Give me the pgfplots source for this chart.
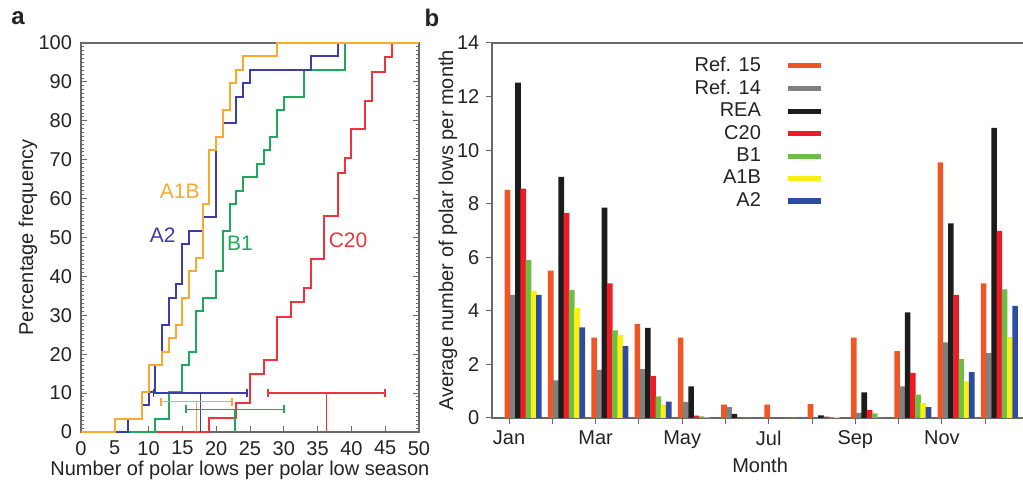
\documentclass[border=0pt]{standalone}
\usepackage{pgfplots}
\pgfplotsset{compat=1.18}
\usepackage{pgfplotstable}
\usepackage{fontspec}
\setmainfont{Liberation Sans}
\definecolor{cA1B}{RGB}{247,170,45}
\definecolor{cA2}{RGB}{60,60,170}
\definecolor{cB1}{RGB}{30,170,90}
\definecolor{cC20}{RGB}{240,50,60}
\definecolor{bRefA}{RGB}{240,85,35}
\definecolor{bRefB}{RGB}{128,128,128}
\definecolor{bREA}{RGB}{28,28,28}
\definecolor{bC20}{RGB}{237,28,36}
\definecolor{bB1}{RGB}{110,190,70}
\definecolor{bA1B}{RGB}{250,238,20}
\definecolor{bA2}{RGB}{45,75,165}
\definecolor{axgray}{RGB}{105,105,105}
\definecolor{txt}{RGB}{35,35,35}

\pgfplotstableread{
m  ref15 ref14 rea   c20  b1   a1b  a2
1  8.52  4.60  12.52 8.56 5.90 4.75 4.60
2  5.50  1.40  9.00  7.66 4.78 4.10 3.38
3  3.00  1.80  7.85  5.03 3.27 3.10 2.68
4  3.51  1.82  3.36  1.57 0.81 0.50 0.61
5  3.00  0.60  1.18  0.09 0.06 0.02 0.00
6  0.50  0.41  0.15  0.00 0.00 0.00 0.00
7  0.50  0.00  0.00  0.00 0.00 0.00 0.00
8  0.52  0.00  0.10  0.05 0.02 0.03 0.00
9  3.00  0.19  0.96  0.30 0.17 0.00 0.00
10 2.50  1.18  3.94  1.68 0.87 0.56 0.41
11 9.54  2.82  7.27  4.60 2.20 1.37 1.71
12 5.03  2.42  10.83 6.99 4.80 3.02 4.19
}\datab

\pgfplotsset{legbar/.style={fill=#1, draw=none,
  legend image code/.code={\draw[line width=2.6pt,#1] (0pt,0pt) -- (16.5pt,0pt);}},
  errb/.style={#1, line width=0.8pt, mark=none, error bars/.cd, x dir=both, x explicit,
  error mark=|, error bar style={#1, line width=0.8pt},
  error mark options={#1, mark size=2pt, line width=0.8pt}}}

\begin{document}
\begin{tikzpicture}[font=\fontsize{10}{12}\selectfont]
\useasboundingbox (0,0) rectangle (511.5pt,243.5pt);
\node[font=\fontsize{12}{14}\selectfont\bfseries, txt] at (9pt,234.5pt) {a};
\node[font=\fontsize{12}{14}\selectfont\bfseries, txt] at (216pt,234.5pt) {b};

% ---------------- panel a ----------------
\begin{axis}[
  at={(40.5pt,27.5pt)}, anchor=south west, scale only axis,
  width=169pt, height=194.5pt,
  xmin=0, xmax=50, ymin=0, ymax=100, clip=false,
  xtick={0,5,...,50}, ytick={0,10,...,100}, minor y tick num=9,
  tick align=inside, xtick pos=left, ytick pos=both, yticklabel pos=left,
  major tick length=3pt, minor tick length=1.6pt,
  axis line style={axgray, line width=0.6pt},
  every tick/.style={axgray, line width=0.5pt},
  ticklabel style={txt, font=\fontsize{10}{12}\selectfont},
  yticklabel style={xshift=-1pt},
  xticklabel style={yshift=-1pt},
  /pgf/number format/assume math mode=true,
  xlabel={Number of polar lows per polar low season},
  ylabel={Percentage frequency},
  xlabel style={at={(axis description cs:0.47,-0.098)}, anchor=center, txt},
  ylabel style={at={(axis description cs:-0.157,0.5)}, anchor=center, txt},
]
\addplot[const plot, cC20, line width=1pt] coordinates {
 (0,0) (19,3.704) (23,7.407) (25,14.815) (27,18.519) (29,29.630) (31,33.333)
 (33,37.037) (34,44.444) (36,55.556) (38,66.667) (39,70.370) (40,77.778)
 (42,85.185) (43,92.593) (45,96.296) (46,100) (50,100)};
\addplot[const plot, cB1, line width=1pt] coordinates {
 (0,0) (11,3.448) (13,10.345) (15,17.241) (16,20.690) (17,31.034) (18,34.483)
 (20,41.379) (21,51.724) (22,58.621) (23,62.069) (24,65.517) (26,68.966)
 (27,72.414) (28,75.862) (29,82.759) (30,86.207) (33,93.103) (39,100) (50,100)};
\addplot[const plot, cA2, line width=1pt] coordinates {
 (0,0) (7,3.448) (9,6.897) (10,10.345) (11,17.241) (12,27.586) (13,34.483)
 (14,37.931) (15,48.276) (16,51.724) (18,55.172) (20,75.862) (21,79.310)
 (23,86.207) (24,89.655) (25,93.103) (34,96.552) (38,100) (50,100)};
\addplot[const plot, cA1B, line width=1pt] coordinates {
 (0,0) (5,3.448) (9,10.345) (10,17.241) (12,20.690) (13,24.138) (14,27.586)
 (15,34.483) (16,41.379) (17,44.828) (18,58.621) (19,72.414) (20,75.862)
 (21,82.759) (22,89.655) (23,93.103) (24,96.552) (29,100) (50,100)};
% error bars (mean and spread)
\addplot[errb=cA2] coordinates {(17.65,10) +- (6.95,0)};
\addplot[cA2, line width=0.8pt] coordinates {(17.7,0) (17.7,10)};
\addplot[errb=cA1B] coordinates {(17.05,7.8) +- (5.25,0)};
\addplot[cA1B, line width=0.8pt] coordinates {(17.1,0) (17.1,7.8)};
\addplot[errb=cB1] coordinates {(22.75,5.8) +- (7.25,0)};
\addplot[cB1, line width=0.8pt] coordinates {(22.8,0) (22.8,5.8)};
\addplot[errb=cC20] coordinates {(36.35,10) +- (8.65,0)};
\addplot[cC20, line width=0.8pt] coordinates {(36.3,0) (36.3,10)};
\node[cA1B, font=\fontsize{10.5}{12}\selectfont] at (axis cs:14.6,62) {A1B};
\node[cA2, font=\fontsize{10.5}{12}\selectfont] at (axis cs:12.1,50.6) {A2};
\node[cB1, font=\fontsize{10.5}{12}\selectfont] at (axis cs:23.5,48.6) {B1};
\node[cC20, font=\fontsize{10.5}{12}\selectfont] at (axis cs:39.5,49.4) {C20};
\end{axis}

% ---------------- panel b ----------------
\begin{axis}[
  at={(246pt,34.5pt)}, anchor=south west, scale only axis,
  width=266.5pt, height=187.5pt,
  xmin=0.607, xmax=12.92, ymin=0, ymax=14,
  ybar, bar width=0.13,
  xtick={1,3,5,7,9,11}, xticklabels={Jan,Mar,May,Jul,Sep,Nov},
  minor xtick={2,4,6,8,10,12},
  ytick={0,2,...,14},
  tick align=outside, xtick pos=left, ytick pos=left,
  major tick length=2.8pt, minor tick length=2.8pt,
  axis line style={axgray, line width=0.6pt},
  every tick/.style={axgray, line width=0.5pt},
  ticklabel style={txt, font=\fontsize{10}{12}\selectfont},
  /pgf/number format/assume math mode=true,
  xlabel={Month}, ylabel={Average number of polar lows per month},
  xlabel style={at={(axis description cs:0.503,-0.125)}, anchor=center, txt},
  ylabel style={at={(axis description cs:-0.0826,0.5)}, anchor=center, txt},
  legend style={draw=none, fill=none, at={(rel axis cs:0.622,0.975)}, anchor=north east,
    inner sep=0pt, row sep=-1.2pt, column sep=10pt, text=txt,
    font=\fontsize{10}{12}\selectfont},
  legend cell align=right, legend plot pos=right,
]
\addplot[legbar=bRefA, bar shift=-0.035] table[x=m, y=ref15] {\datab};
\addlegendentry{Ref. 15}
\addplot[legbar=bRefB, bar shift=0.086] table[x=m, y=ref14] {\datab};
\addlegendentry{Ref. 14}
\addplot[legbar=bREA, bar shift=0.207] table[x=m, y=rea] {\datab};
\addlegendentry{REA}
\addplot[legbar=bC20, bar shift=0.328] table[x=m, y=c20] {\datab};
\addlegendentry{C20}
\addplot[legbar=bB1, bar shift=0.449] table[x=m, y=b1] {\datab};
\addlegendentry{B1}
\addplot[legbar=bA1B, bar shift=0.570] table[x=m, y=a1b] {\datab};
\addlegendentry{A1B}
\addplot[legbar=bA2, bar shift=0.691] table[x=m, y=a2] {\datab};
\addlegendentry{A2}
\end{axis}
\end{tikzpicture}
\end{document}
